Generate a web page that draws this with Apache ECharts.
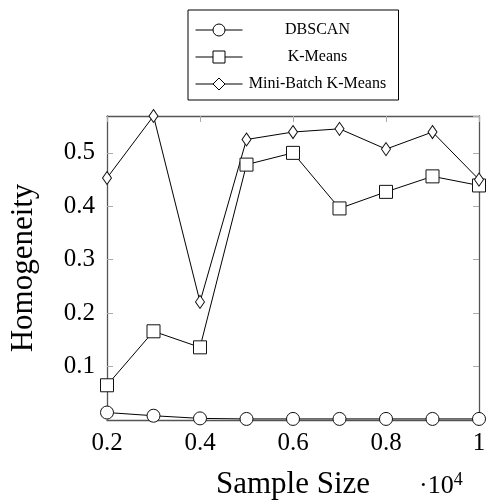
<!DOCTYPE html>
<html>
<head>
<meta charset="utf-8">
<script src="https://cdn.jsdelivr.net/npm/echarts@6/dist/echarts.min.js"></script>
<style>html,body{margin:0;padding:0;background:#fff;}#c{width:487px;height:500px;}</style>
</head>
<body>
<div id="c"></div>
<script>
const sampleSizes = [0.2, 0.3, 0.4, 0.5, 0.6, 0.7, 0.8, 0.9, 1.0];
const dbscan = [0.014, 0.008, 0.003, 0.002, 0.002, 0.002, 0.002, 0.002, 0.002];
const kmeans = [0.065, 0.166, 0.136, 0.478, 0.500, 0.396, 0.427, 0.456, 0.439];
const miniBatch = [0.453, 0.569, 0.221, 0.525, 0.539, 0.545, 0.507, 0.539, 0.450];
const seriesNames = ['DBSCAN', 'K-Means', 'Mini-Batch K-Means'];
const xTickLabels = ['0.2', '0.4', '0.6', '0.8', '1'];
const yTickLabels = ['0.1', '0.2', '0.3', '0.4', '0.5'];

const FONT = '"Liberation Serif", "DejaVu Serif", serif';
const pair = (vals) => sampleSizes.map((x, i) => [x, vals[i]]);

const chart = echarts.init(document.getElementById('c'), null, {renderer: 'canvas'});
const axisLine = {show: true, onZero: false, lineStyle: {color: '#555', width: 1.3}};
const axisTick = {show: true, inside: true, length: 6, lineStyle: {color: '#aaa', width: 1}};

const mk = (name, data, symbol, size) => ({
  name, type: 'line', data, xAxisIndex: 0, yAxisIndex: 0,
  symbol, symbolSize: size, showSymbol: true,
  lineStyle: {color: '#000', width: 1},
  itemStyle: {color: '#fff', borderColor: '#111', borderWidth: 1},
  emphasis: {disabled: true}, animation: false
});

chart.setOption({
  animation: false,
  backgroundColor: '#fff',
  grid: {left: 107, right: 8, top: 116, bottom: 80, containLabel: false, outerBoundsMode: 'none'},
  legend: {
    orient: 'vertical', left: 188, top: 10,
    data: seriesNames,
    backgroundColor: '#fff',
    borderColor: '#000', borderWidth: 1,
    padding: [11, 11, 7, 7],
    itemWidth: 47, itemHeight: 15, itemGap: 9,
    selectedMode: false,
    lineStyle: {width: 1, color: '#000'},
    itemStyle: {color: '#fff', borderColor: '#000', borderWidth: 1},
    formatter: (n) => '{t|' + n + '}',
    textStyle: {
      fontFamily: FONT, fontSize: 16, color: '#000', lineHeight: 18,
      rich: {t: {width: 140, align: 'center', fontFamily: FONT, fontSize: 16, color: '#000'}}
    }
  },
  xAxis: [{
    type: 'value', min: 0.2, max: 1, interval: 0.2,
    axisLine, axisTick, splitLine: {show: false},
    axisLabel: {
      fontFamily: FONT, fontSize: 25, color: '#000', margin: 11,
      formatter: (v) => xTickLabels[Math.round((v - 0.2) / 0.2)] || ''
    },
    name: 'Sample Size', nameLocation: 'middle', nameGap: 49,
    nameTextStyle: {fontFamily: FONT, fontSize: 31, color: '#000'}
  }, {
    type: 'value', position: 'top', min: 0.2, max: 1, interval: 0.2,
    axisLine, axisTick, splitLine: {show: false}, axisLabel: {show: false}
  }],
  yAxis: [{
    type: 'value', min: 0, max: 0.569, interval: 0.1,
    axisLine, axisTick, splitLine: {show: false},
    axisLabel: {
      fontFamily: FONT, fontSize: 25, color: '#000', margin: 12,
      showMinLabel: false, showMaxLabel: false,
      formatter: (v) => { const i = Math.round(v * 10) - 1; return (i >= 0 && i < yTickLabels.length && Math.abs(v * 10 - Math.round(v * 10)) < 1e-6) ? yTickLabels[i] : ''; }
    },
    name: 'Homogeneity', nameLocation: 'middle', nameGap: 68, nameRotate: 90,
    nameTextStyle: {fontFamily: FONT, fontSize: 31, color: '#000'}
  }, {
    type: 'value', position: 'right', min: 0, max: 0.569, interval: 0.1,
    axisLine, axisTick, splitLine: {show: false}, axisLabel: {show: false}
  }],
  series: [
    mk(seriesNames[0], pair(dbscan), 'circle', 13),
    mk(seriesNames[1], pair(kmeans), 'rect', 13),
    mk(seriesNames[2], pair(miniBatch), 'diamond', [9, 13])
  ],
  graphic: [{
    type: 'text', left: 419, top: 471,
    style: {
      text: '{d|·}{n|10}{s|4}',
      rich: {
        d: {fontFamily: FONT, fontSize: 26, fill: '#000'},
        n: {fontFamily: FONT, fontSize: 26, fill: '#000'},
        s: {fontFamily: FONT, fontSize: 18, fill: '#000', verticalAlign: 'top', padding: [0, 0, 12, 0]}
      }
    }
  }]
});
</script>
</body>
</html>
